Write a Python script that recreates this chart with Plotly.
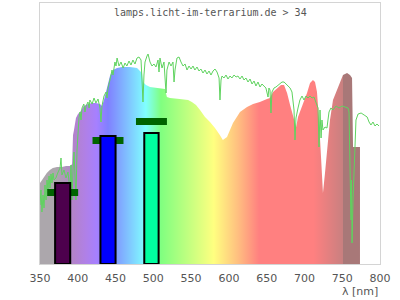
import plotly.graph_objects as go

# ---- data ----
title_text = "lamps.licht-im-terrarium.de > 34"
x_ticks = [350, 400, 450, 500, 550, 600, 650, 700, 750, 800]
x_label = "λ [nm]"

# smoothed reference spectrum (filled, coloured by wavelength)
env_wl = [350, 354, 359, 363, 367, 372.5, 379, 384.5, 390, 392.5, 393.7, 395, 397.6, 400.3,
          403, 408, 413.5, 419, 424, 429.4, 432, 434.7, 438.7, 442.6, 446.6, 452, 458.5,
          469, 478.4, 482.4, 485, 486.3, 490.3, 495.6, 506, 515.4, 518, 522, 535, 546,
          551, 556.5, 561.8, 568.4, 575, 581.6, 588, 592, 597.5, 605.4, 614.7, 624, 632,
          641, 650.4, 654.4, 658.4, 663.7, 669, 673, 677, 681, 685, 689, 691.5, 696.8,
          703.4, 707.4, 711.3, 714, 716.6, 719.3, 721.9, 723.2, 724.5, 727.2, 729.8,
          733.8, 737.8, 743, 747, 751, 756.4, 760.3, 763, 764.3, 773.5]
env_val = [81, 86, 91, 94, 96, 97, 97, 98, 98, 100, 129, 134, 146, 150,
           152, 158, 160, 161, 161, 160, 158, 164, 176, 188, 194, 196, 197,
           197, 196, 193, 191, 182, 179, 177, 176, 175, 167, 166, 165, 164,
           162, 159, 154, 147, 142, 136, 129, 124, 127, 141, 152, 157, 160,
           162, 165, 166, 172, 176, 179, 179, 171, 159, 147, 137, 147, 157,
           171, 181, 184, 182, 172, 144, 104, 81, 71, 91, 114,
           144, 164, 174, 182, 189, 191, 189, 186, 117, 117]

# measured sun spectrum (green line)
sun_wl = [350, 351.3, 352.6, 354, 355.3, 356.6, 358, 359.3, 360.6, 362, 363.2, 364.6, 365.9,
          367.2, 368.5, 371, 374, 376.5, 377.8, 379, 381.8, 384.4, 387, 389.7, 391, 392.4,
          393.7, 395, 396.3, 397.6, 399, 400.3, 401.6, 403, 404.3, 405.6, 408, 409.5, 411,
          413.5, 415, 416, 419, 421.5, 424, 426.8, 429.4, 430.7, 432, 434.7, 437.4, 438.7,
          440, 442.6, 445.3, 446.6, 449.2, 450.6, 452, 454.6, 457.2, 460, 462.5, 465, 467.8,
          470.4, 473, 475.7, 478.4, 481, 483.7, 485, 486.3, 487.6, 489, 491.6, 493, 495.6,
          498.2, 500.9, 503.5, 506.2, 507.5, 508.8, 511.5, 514.1, 515.4, 516.8, 518, 520.8,
          523.4, 526, 527.4, 528.7, 531.3, 534, 536.6, 539.3, 542, 544.6, 547.2, 549.9,
          552.5, 555, 557.8, 560.4, 563, 565.7, 568.4, 571, 573.7, 576.3, 579, 581.6, 584.3,
          587, 588.2, 589.6, 590.9, 593.5, 596.2, 598.8, 601.5, 604, 606.8, 609.5, 612,
          614.7, 617.4, 620, 622.6, 625.3, 628, 630.6, 633.3, 635.8, 638.5, 641.2, 643.8,
          646.5, 649, 651.8, 653, 654.4, 655.7, 657, 659.7, 662.3, 665, 667.6, 670.3, 673,
          675.6, 678.2, 681, 683.5, 686.2, 687.5, 688.8, 691.5, 694, 696.8, 699.4, 702,
          704.7, 707.4, 710, 712.6, 715.3, 718, 719.3, 720.6, 722, 723.2, 724.5, 727.2,
          729.8, 732.5, 735, 737.8, 741.8, 745.7, 749.7, 753.7, 757.7, 759, 760.3, 761.6,
          762.3, 763, 764.3, 765.6, 767, 768.2, 771, 775, 779, 783, 785.5, 788, 790.7,
          793.4, 796, 798.7]
sun_val = [59, 74, 52, 69, 56, 79, 64, 84, 74, 88, 76, 90, 81,
           91, 84, 86, 92, 96, 106, 89, 94, 86, 92, 74, 99, 64,
           94, 112, 89, 64, 114, 139, 146, 152, 144, 156, 160, 152, 158,
           162, 156, 164, 160, 166, 161, 165, 156, 142, 158, 168, 172, 166,
           176, 184, 194, 189, 202, 198, 206, 198, 202, 196, 201, 198, 203,
           199, 204, 200, 206, 207, 204, 184, 162, 189, 202, 208, 210, 202,
           198, 200, 197, 204, 192, 206, 196, 202, 184, 171, 194, 202,
           198, 202, 182, 194, 206, 207, 202, 198, 200, 194, 198, 195,
           198, 194, 197, 193, 195, 191, 194, 190, 193, 189, 193, 195, 192,
           186, 164, 184, 188, 186, 189, 185, 188, 186, 189, 187, 188,
           185, 188, 184, 186, 182, 185, 180, 183, 178, 182, 177, 180,
           178, 176, 167, 176, 174, 151, 172, 176, 177, 179, 180, 182, 182,
           180, 179, 176, 172, 154, 124, 146, 156, 164, 168, 164, 168,
           166, 168, 166, 167, 162, 156, 117, 154, 126, 144, 134, 137,
           136, 152, 156, 154, 158, 156, 158, 157, 156, 152, 94, 44,
           84, 21, 64, 99, 124, 144, 150, 151, 149, 147, 142, 139, 142,
           138, 140, 138]

# LED peaks
led_wl = [380, 440, 497.5]
led_fwhm = [20, 20, 19]
led_val = [81, 128, 131]
led_colors = ["#4d004d", "#0000ff", "#00ff9f"]
mark_val = [71.5, 123.5, 142.5]

# ---- colours along wavelength ----
X0, X1 = 350, 800
stops = [(350, "#aca7ac"), (371, "#aca7ac"), (395, "#b382cc"), (410, "#b080e6"),
         (425, "#a680ff"), (440, "#8080ff"), (465, "#80bfff"), (490, "#80ffff"),
         (510, "#80ff80"), (545, "#bfff80"), (580, "#ffff80"), (612, "#ffbf80"),
         (640, "#ff8080"), (712, "#ff8080"), (750.5, "#c98080"), (751, "#a87878"),
         (800, "#a87878")]
cscale = [[(w - X0) / (X1 - X0), c] for w, c in stops]

fig = go.Figure()
fig.add_trace(go.Scatter(
    x=env_wl, y=env_val, mode="lines", line=dict(width=0),
    fill="tozeroy",
    fillgradient=dict(type="horizontal", colorscale=cscale, start=X0, stop=X1),
    hoverinfo="skip", showlegend=False))
fig.add_trace(go.Scatter(
    x=sun_wl, y=sun_val, mode="lines", line=dict(color="#5fd35f", width=1),
    hoverinfo="skip", showlegend=False))

# markers & LED bars on an overlay subplot so they sit above the spectrum
fig.add_trace(go.Bar(
    x=led_wl, y=[7] * len(mark_val), base=[m - 3.5 for m in mark_val],
    width=[41] * len(mark_val), marker=dict(color="#006400", line=dict(width=0)),
    xaxis="x2", yaxis="y2", showlegend=False, hoverinfo="skip"))
fig.add_trace(go.Bar(
    x=led_wl, y=led_val, width=led_fwhm,
    marker=dict(color=led_colors, line=dict(color="#000000", width=2)),
    xaxis="x2", yaxis="y2", showlegend=False, hoverinfo="skip"))

axis_font = dict(family="DejaVu Sans", size=11, color="#555555")
fig.update_layout(
    width=400, height=300,
    margin=dict(l=40, r=20, t=3, b=36),
    paper_bgcolor="white", plot_bgcolor="white",
    barmode="overlay",
    showlegend=False,
    xaxis=dict(range=[X0, X1], tickvals=x_ticks, ticks="", showgrid=False,
               zeroline=False, showline=True, mirror=True, linecolor="#d4d4d4",
               linewidth=1, tickfont=axis_font, ticklabelstandoff=4, fixedrange=True),
    yaxis=dict(range=[0, 261], showticklabels=False, ticks="", showgrid=False,
               zeroline=False, showline=True, mirror=True, linecolor="#d4d4d4",
               linewidth=1, fixedrange=True),
    xaxis2=dict(range=[X0, X1], overlaying="x", visible=False, fixedrange=True),
    yaxis2=dict(range=[0, 261], overlaying="y", visible=False, fixedrange=True),
    annotations=[
        dict(text=title_text, x=0.5, y=0.9655, xref="paper", yref="paper",
             xanchor="center", yanchor="middle", showarrow=False,
             font=dict(family="DejaVu Sans Mono", size=10, color="#555555")),
        dict(text=x_label, x=1.0, y=-0.107, xref="paper", yref="paper",
             xanchor="right", yanchor="middle", showarrow=False,
             font=axis_font),
    ],
)

fig.write_html("out.html")
